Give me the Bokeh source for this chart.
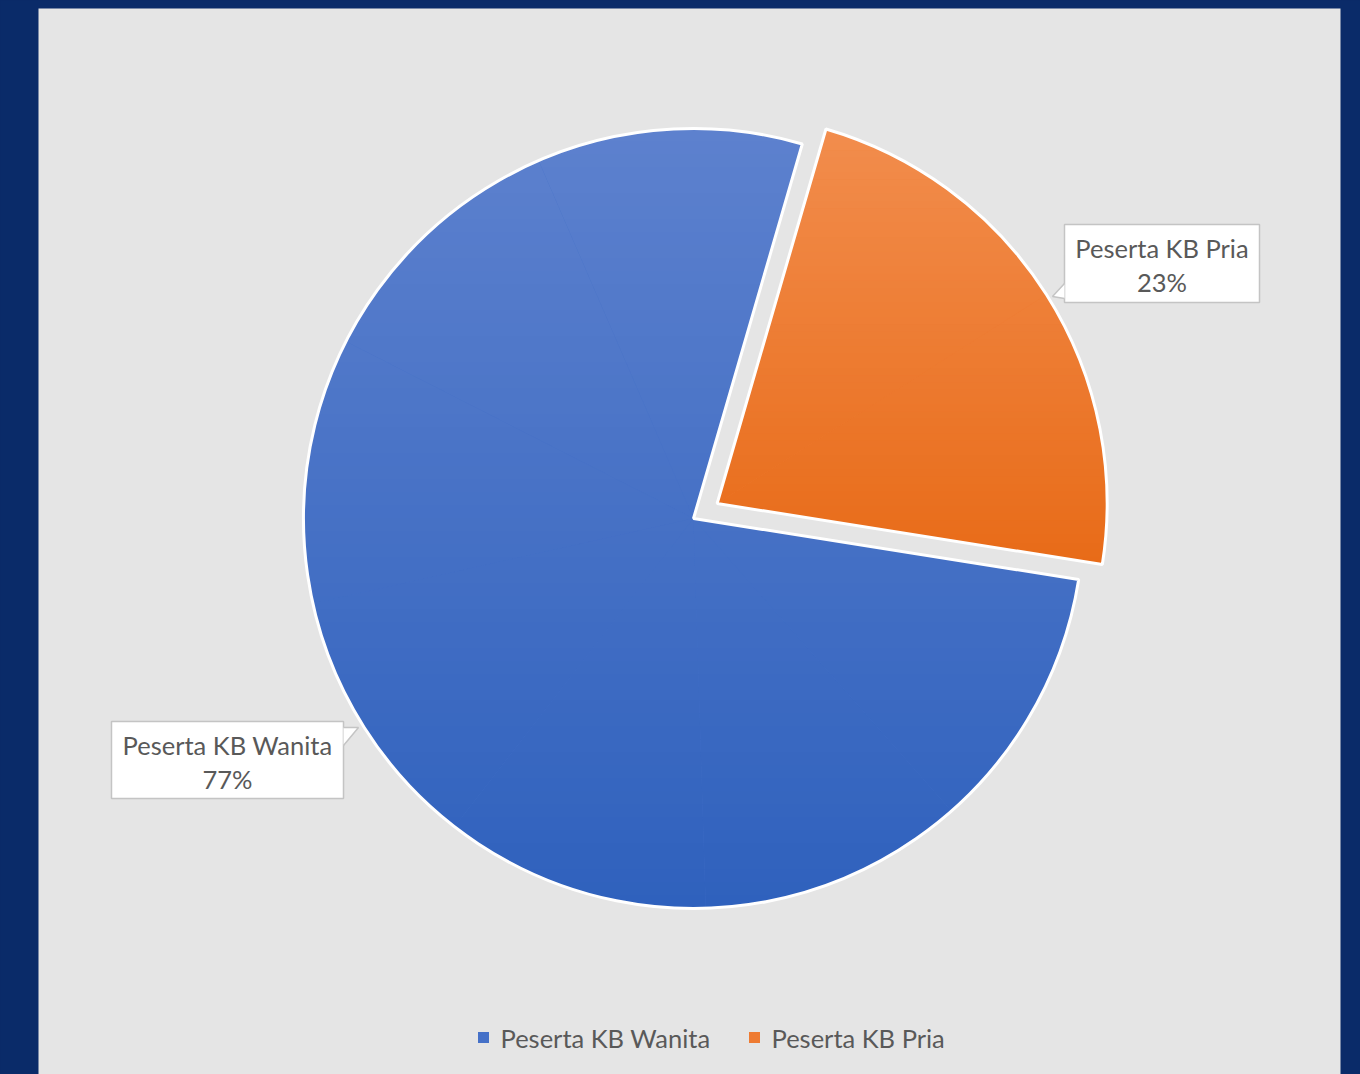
import numpy as np
from bokeh.plotting import figure
from bokeh.models import Range1d
from bokeh.core.properties import value
from bokeh.embed import file_html
from bokeh.resources import INLINE

# ---------------- data ----------------
categories = ["Peserta KB Wanita", "Peserta KB Pria"]
values = [77, 23]
pct_labels = ["77%", "23%"]
colors_top = ["#5d81ce", "#f28d4d"]
colors_bottom = ["#2f61bd", "#e86b18"]
colors_mid = ["#4571c8", "#ee7b32"]

# ---------------- layout ----------------
W, H = 1360, 1074
NAVY = "#0a2b69"
PANEL = "#e5e5e5"
TXT = "#595959"
FONT = "Lato"
FS = "25.5px"
CX, CY = 693, -518          # pie centre (page px, y negated)
R = 390
FIRST_ANGLE = 99            # clockwise from 12 o'clock, degrees
EXPLODE = [0, 28]

p = figure(width=W, height=H, x_range=Range1d(0, W), y_range=Range1d(-H, 0),
           output_backend="svg", toolbar_location=None, min_border=0)
p.axis.visible = False
p.grid.visible = False
p.outline_line_color = None
p.background_fill_color = NAVY
p.border_fill_color = NAVY

# grey chart panel
p.quad(left=[38], right=[1340], top=[-8], bottom=[-1080], fill_color=PANEL, line_color=None)

# ---------------- slices ----------------
total = float(sum(values))
theta = FIRST_ANGLE
starts, ends, xs, ys = [], [], [], []
for v, e in zip(values, EXPLODE):
    span = 360.0 * v / total
    a_end = 90.0 - theta
    a_start = 90.0 - (theta + span)
    mid = np.radians((a_start + a_end) / 2)
    starts.append(np.radians(a_start))
    ends.append(np.radians(a_end))
    xs.append(CX + e * np.cos(mid))
    ys.append(CY + e * np.sin(mid))
    theta += span

p.wedge(x=xs, y=ys, radius=R, start_angle=starts, end_angle=ends,
        fill_color=colors_mid, line_color=None)


def clip(poly, y0, keep_above):
    out = []
    n = len(poly)
    for i in range(n):
        a = poly[i]
        b = poly[(i + 1) % n]
        ina = (a[1] >= y0) if keep_above else (a[1] <= y0)
        inb = (b[1] >= y0) if keep_above else (b[1] <= y0)
        if ina:
            out.append(a)
        if ina != inb:
            t = (y0 - a[1]) / (b[1] - a[1])
            out.append((a[0] + t * (b[0] - a[0]), y0))
    return out


def hex2rgb(h):
    h = h.lstrip("#")
    return np.array([int(h[i:i + 2], 16) for i in (0, 2, 4)], dtype=float)


band_xs, band_ys, band_cols = [], [], []
NB = 60
for i in range(len(values)):
    a0, a1 = starts[i], ends[i]
    nsec = int(np.ceil(np.degrees(a1 - a0) / 45.0))
    edges = np.linspace(a0, a1, nsec + 1)
    pieces = []
    for s in range(nsec):
        ang = np.linspace(edges[s], edges[s + 1], 40)
        poly = [(xs[i], ys[i])] + [(xs[i] + R * np.cos(a), ys[i] + R * np.sin(a)) for a in ang]
        pieces.append(poly)
    allpts = np.array([pt for pc in pieces for pt in pc])
    ytop, ybot = allpts[:, 1].max(), allpts[:, 1].min()
    ct, cb = hex2rgb(colors_top[i]), hex2rgb(colors_bottom[i])
    bands = np.linspace(ytop, ybot, NB + 1)
    for b in range(NB):
        yhi, ylo = bands[b], bands[b + 1]
        t = (b + 0.5) / NB
        c = ct + (cb - ct) * t
        col = "#%02x%02x%02x" % tuple(int(round(k)) for k in c)
        for pc in pieces:
            q = clip(pc, ylo, True)
            if len(q) < 3:
                continue
            q = clip(q, yhi + 0.6, False)
            if len(q) < 3:
                continue
            band_xs.append([pt[0] for pt in q])
            band_ys.append([pt[1] for pt in q])
            band_cols.append(col)

p.patches(xs=band_xs, ys=band_ys, fill_color=band_cols, line_color=None)

# white slice borders
p.wedge(x=xs, y=ys, radius=R, start_angle=starts, end_angle=ends,
        fill_color=None, line_color="white", line_width=3)

# ---------------- data labels ----------------
# boxes: left, right, top, bottom (page px)
boxes = [(111, 343, 721, 798), (1064, 1259, 224, 302)]
pointers = [
    [(343, 727), (358, 727), (343, 745)],
    [(1064, 283), (1052, 296), (1064, 298)],
]
for (l, r, t, b) in boxes:
    p.quad(left=[l], right=[r], top=[-t], bottom=[-b], fill_color="white",
           line_color="#c4c4c4", line_width=1.5)
for ptr in pointers:
    p.patch(x=[q[0] for q in ptr], y=[-q[1] for q in ptr], fill_color="white", line_color=None)
    p.line(x=[q[0] for q in ptr], y=[-q[1] for q in ptr], line_color="#c4c4c4", line_width=1.5)

lab_x = [(bx[0] + bx[1]) / 2 for bx in boxes]
lab_y1 = [-(bx[2] + 23) for bx in boxes]
lab_y2 = [-(bx[2] + 57) for bx in boxes]
p.text(x=lab_x, y=lab_y1, text=categories, text_align="center", text_baseline="middle",
       text_font=value(FONT), text_font_size=FS, text_color=TXT)
p.text(x=lab_x, y=lab_y2, text=pct_labels, text_align="center", text_baseline="middle",
       text_font=value(FONT), text_font_size=FS, text_color=TXT)

# ---------------- legend ----------------
leg_mx = [483, 754]
leg_y = -1037
p.scatter(x=leg_mx, y=[leg_y] * 2, marker="square", size=11,
          fill_color=colors_mid, line_color=None)
p.text(x=[m + 17 for m in leg_mx], y=[leg_y] * 2, text=categories, text_align="left",
       text_baseline="middle", text_font=value(FONT), text_font_size=FS, text_color=TXT)

html = file_html(p, INLINE)
html = html.replace("</head>", "<style>body{background:%s;}</style></head>" % NAVY, 1)
open("out.html", "w").write(html)
